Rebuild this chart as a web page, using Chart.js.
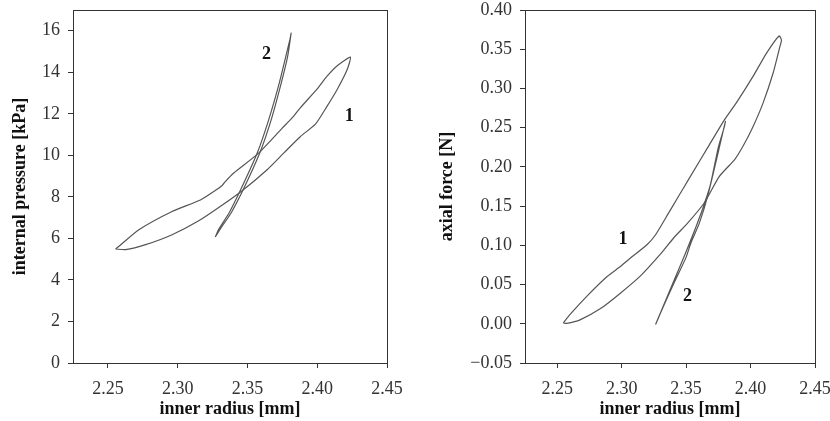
<!DOCTYPE html>
<html>
<head>
<meta charset="utf-8">
<script src="https://cdn.jsdelivr.net/npm/chart.js@4/dist/chart.umd.min.js"></script>
<style>
    html, body { margin: 0; padding: 0; background: #fff; }
    #wrap { position: relative; width: 830px; height: 421px; }
    canvas { position: absolute; top: 0; }
    #pressureChart { left: 0; }
    #forceChart { left: 415px; }
</style>
</head>
<body>
<div id="wrap">
    <canvas id="pressureChart" width="415" height="421"></canvas>
    <canvas id="forceChart" width="415" height="421"></canvas>
</div>
<script>
// tick labels
const radiusTicks = [2.25, 2.30, 2.35, 2.40, 2.45];
const pressureTicks = [0, 2, 4, 6, 8, 10, 12, 14, 16];
const forceTicks = [-0.05, 0, 0.05, 0.10, 0.15, 0.20, 0.25, 0.30, 0.35, 0.40];

// left panel, loop 1 (upper branch out, lower branch back)
const p1Radius = [2.2555, 2.2579, 2.2722, 2.2960, 2.3163, 2.3259, 2.3319, 2.3343, 2.3402, 2.3580, 2.3748, 2.3820, 2.3880, 2.4000, 2.4069, 2.4150, 2.4238,
                  2.4214, 2.4142, 2.4070, 2.3987, 2.3880, 2.3760, 2.3641, 2.3462, 2.3307, 2.3151, 2.2960, 2.2770, 2.2627, 2.2555];
const p1Pressure = [5.49, 5.62, 6.42, 7.30, 7.85, 8.26, 8.55, 8.75, 9.15, 10.11, 11.30, 11.80, 12.30, 13.20, 13.80, 14.35, 14.73,
                    14.12, 13.16, 12.36, 11.50, 10.91, 10.11, 9.31, 8.30, 7.55, 6.85, 6.18, 5.70, 5.46, 5.49];

// left panel, loop 2 (narrow)
const p2Radius = [2.3270, 2.3315, 2.3385, 2.3470, 2.3588, 2.3670, 2.3742, 2.3788, 2.3813,
                  2.3805, 2.3775, 2.3728, 2.3652, 2.3570, 2.3452, 2.3368, 2.3295, 2.3270];
const p2Pressure = [6.07, 6.55, 7.25, 8.35, 10.11, 11.71, 13.48, 14.77, 15.89,
                    15.60, 14.77, 13.48, 11.71, 10.11, 8.35, 7.22, 6.45, 6.07];

// right panel, loop 1
const f1Radius = [2.2547, 2.2600, 2.2729, 2.2885, 2.2990, 2.3055, 2.3198, 2.3263, 2.3367, 2.3432, 2.3523, 2.3680, 2.3797, 2.3888, 2.4018, 2.4123, 2.4221, 2.4240,
                  2.4227, 2.4174, 2.4096, 2.4018, 2.3940, 2.3875, 2.3758, 2.3640, 2.3510, 2.3406, 2.3302, 2.3146, 2.2990, 2.2833, 2.2677, 2.2573, 2.2547];
const f1Force = [0.001, 0.012, 0.035, 0.060, 0.073, 0.082, 0.101, 0.1135, 0.142, 0.160, 0.185, 0.228, 0.260, 0.2812, 0.315, 0.3448, 0.3669, 0.3618,
                 0.353, 0.319, 0.281, 0.251, 0.226, 0.209, 0.188, 0.154, 0.128, 0.110, 0.089, 0.061, 0.039, 0.019, 0.005, 0.0005, 0.001];

// right panel, loop 2 (narrow)
const f2Radius = [2.3263, 2.3302, 2.3406, 2.3498, 2.3537, 2.3602, 2.3666, 2.3771, 2.3805,
                  2.3795, 2.3750, 2.3685, 2.3625, 2.3580, 2.3520, 2.3470, 2.3380, 2.3263];
const f2Force = [-0.001, 0.014, 0.052, 0.084, 0.103, 0.128, 0.162, 0.234, 0.258,
                 0.250, 0.225, 0.175, 0.145, 0.125, 0.100, 0.080, 0.045, -0.001];

// curve numbers
const pressureNotes = [{ text: '2', x: 2.3636, y: 14.85 }, { text: '1', x: 2.423, y: 11.87 }];
const forceNotes = [{ text: '1', x: 2.301, y: 0.107 }, { text: '2', x: 2.351, y: 0.035 }];

const SERIF = '"Liberation Serif", "DejaVu Serif", serif';
const INK = '#333';

function toPoints(xs, ys) {
    return xs.map((x, i) => ({ x: x, y: ys[i] }));
}

function loop(xs, ys) {
    return {
        data: toPoints(xs, ys),
        showLine: true,
        borderColor: '#555',
        borderWidth: 1.2,
        pointRadius: 0,
        tension: 0.2,
        fill: false
    };
}

// frame around the plot area and the "1"/"2" marks
const framePlugin = {
    id: 'frame',
    afterDraw(chart) {
        const { ctx, chartArea: a, scales } = chart;
        ctx.save();
        ctx.strokeStyle = INK;
        ctx.lineWidth = 1;
        ctx.strokeRect(a.left + 0.5, a.top + 0.5, a.right - a.left, a.bottom - a.top);

        const notes = chart.options.plugins.frame.notes || [];
        ctx.fillStyle = '#111';
        ctx.font = 'bold 18px ' + SERIF;
        ctx.textAlign = 'center';
        ctx.textBaseline = 'middle';
        notes.forEach(n => {
            ctx.fillText(n.text, scales.x.getPixelForValue(n.x), scales.y.getPixelForValue(n.y));
        });
        ctx.restore();
    }
};

function makeChart(id, datasets, yOpts, notes) {
    return new Chart(document.getElementById(id), {
        type: 'scatter',
        data: { datasets: datasets },
        plugins: [framePlugin],
        options: {
            responsive: false,
            animation: false,
            layout: { padding: { top: 10, right: yOpts.padRight, bottom: 0, left: 0 } },
            plugins: {
                legend: { display: false },
                tooltip: { enabled: false },
                frame: { notes: notes }
            },
            scales: {
                x: {
                    type: 'linear',
                    min: 2.225,
                    max: 2.45,
                    afterBuildTicks: s => { s.ticks = radiusTicks.map(v => ({ value: v })); },
                    afterFit: s => { s.height = 58; s.paddingLeft = 0; s.paddingRight = 0; },
                    ticks: {
                        callback: v => v.toFixed(2),
                        font: { family: SERIF, size: 18 },
                        color: INK,
                        padding: 10,
                        maxRotation: 0
                    },
                    grid: { drawOnChartArea: false, tickLength: 5, color: INK },
                    border: { color: INK },
                    title: {
                        display: true,
                        text: 'inner radius [mm]',
                        font: { family: SERIF, size: 18, weight: 'bold' },
                        color: '#111',
                        padding: { top: 0, bottom: 1 }
                    }
                },
                y: {
                    type: 'linear',
                    min: yOpts.min,
                    max: yOpts.max,
                    afterBuildTicks: s => { s.ticks = yOpts.ticks.map(v => ({ value: v })); },
                    afterFit: s => { s.width = yOpts.width; s.paddingTop = 0; s.paddingBottom = 0; },
                    ticks: {
                        callback: yOpts.format,
                        font: { family: SERIF, size: 18 },
                        color: INK,
                        padding: 8
                    },
                    grid: { drawOnChartArea: false, tickLength: 5, color: INK },
                    border: { color: INK },
                    title: {
                        display: true,
                        text: yOpts.title,
                        font: { family: SERIF, size: 18, weight: 'bold' },
                        color: '#111',
                        padding: { top: yOpts.titlePad, bottom: 0 }
                    }
                }
            }
        }
    });
}

document.addEventListener('DOMContentLoaded', () => {
    makeChart('pressureChart',
        [loop(p1Radius, p1Pressure), loop(p2Radius, p2Pressure)],
        {
            min: 0, max: 17, ticks: pressureTicks, width: 73, padRight: 28, titlePad: 10,
            title: 'internal pressure [kPa]',
            format: v => String(v)
        },
        pressureNotes);

    makeChart('forceChart',
        [loop(f1Radius, f1Force), loop(f2Radius, f2Force)],
        {
            min: -0.05, max: 0.40, ticks: forceTicks, width: 110, padRight: 15, titlePad: 22,
            title: 'axial force [N]',
            format: v => (v < 0 ? '\u2212' + Math.abs(v).toFixed(2) : v.toFixed(2))
        },
        forceNotes);
});
</script>
</body>
</html>
